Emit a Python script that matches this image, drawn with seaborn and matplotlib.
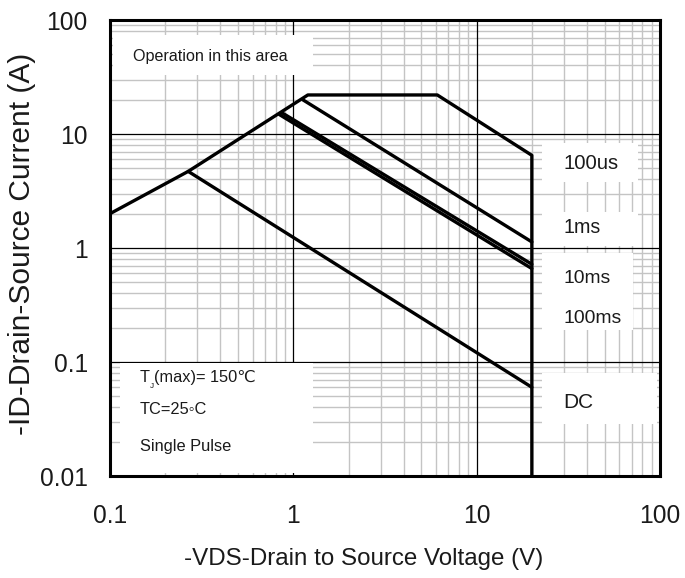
import matplotlib
matplotlib.use("Agg")
import matplotlib.pyplot as plt
from matplotlib.patches import Rectangle
import numpy as np
import pandas as pd
import seaborn as sns

# ---- data (V, A) ----
boundary_v = [0.1, 0.267, 1.2, 6.1, 20.0, 20.0]
boundary_i = [2.0, 4.7, 22.0, 22.0, 6.5, 0.01]
ms1_v = [1.13, 20.0]
ms1_i = [19.9, 1.13]
ms10_v = [0.87, 20.0]
ms10_i = [15.3, 0.72]
ms100_v = [0.84, 20.0]
ms100_i = [14.8, 0.66]
dc_v = [0.267, 20.0]
dc_i = [4.7, 0.06]

series_labels = ["100us", "1ms", "10ms", "100ms", "DC"]
x_ticks = [0.1, 1, 10, 100]
x_ticklabels = ["0.1", "1", "10", "100"]
y_ticks = [0.01, 0.1, 1, 10, 100]
y_ticklabels = ["0.01", "0.1", "1", "10", "100"]

rows = []
for name, vs, is_ in [("boundary", boundary_v, boundary_i), ("1ms", ms1_v, ms1_i),
                      ("10ms", ms10_v, ms10_i), ("100ms", ms100_v, ms100_i),
                      ("DC", dc_v, dc_i)]:
    for k, (v, i) in enumerate(zip(vs, is_)):
        rows.append({"series": name, "order": k, "V": v, "I": i})
df = pd.DataFrame(rows)

sns.set_theme(style="white")
plt.rcParams["font.family"] = ["Liberation Sans", "DejaVu Sans"]

fig = plt.figure(figsize=(6.85, 5.78), dpi=100)
ax = fig.add_axes([110 / 685, 1 - 476 / 578, 550 / 685, 456 / 578])

ax.set_xscale("log")
ax.set_yscale("log")
ax.set_xlim(0.1, 100)
ax.set_ylim(0.01, 100)

# grid: minor grey from the axis, major black on top of it
ax.grid(True, which="minor", color="#c4c4c4", lw=1.0)
ax.grid(False, which="major")
ax.set_axisbelow(True)
for xv in x_ticks[1:-1]:
    ax.axvline(xv, color="black", lw=0.9, zorder=1)
for yv in y_ticks[1:-1]:
    ax.axhline(yv, color="black", lw=0.9, zorder=1)

for name, grp in df.groupby("series", sort=False):
    sns.lineplot(data=grp.sort_values("order"), x="V", y="I", sort=False,
                 estimator=None, color="black", lw=2.4, ax=ax, zorder=4,
                 legend=False)

ax.set_xticks(x_ticks)
ax.set_xticklabels(x_ticklabels)
ax.set_yticks(y_ticks)
ax.set_yticklabels(y_ticklabels)
ax.xaxis.set_minor_locator(matplotlib.ticker.LogLocator(base=10, subs=np.arange(2, 10)))
ax.yaxis.set_minor_locator(matplotlib.ticker.LogLocator(base=10, subs=np.arange(2, 10)))
ax.xaxis.set_minor_formatter(matplotlib.ticker.NullFormatter())
ax.yaxis.set_minor_formatter(matplotlib.ticker.NullFormatter())
ax.tick_params(which="both", length=0, colors="#1a1a1a")
ax.tick_params(axis="x", pad=20)
ax.tick_params(axis="y", pad=16)

for s in ax.spines.values():
    s.set_linewidth(2.2)
    s.set_color("black")
    s.set_zorder(6)

xl = ax.set_xlabel("-VDS-Drain to Source Voltage (V)", color="#1a1a1a")
yl = ax.set_ylabel("-ID-Drain-Source Current (A)", color="#1a1a1a")

# white areas behind annotations
def white_box(x0, y0, x1, y1):
    ax.add_patch(Rectangle((x0, y0), x1 - x0, y1 - y0, transform=ax.transAxes,
                           facecolor="white", edgecolor="none", zorder=2))

white_box(0.005, 0.879, 0.369, 0.967)
white_box(0.018, 0.007, 0.369, 0.248)
white_box(0.785, 0.645, 0.96, 0.73)
white_box(0.785, 0.505, 0.96, 0.58)
white_box(0.785, 0.32, 0.95, 0.49)
white_box(0.785, 0.115, 0.995, 0.225)

t_op = ax.text(0.183, 0.921, "Operation in this area", transform=ax.transAxes,
               ha="center", va="center", color="#1a1a1a", zorder=3)

label_y = [0.686, 0.544, 0.434, 0.346, 0.162]
label_w = [55, 37, 47, 58, 30]
lab_texts = []
for lab, yy in zip(series_labels, label_y):
    lab_texts.append(ax.text(0.824, yy, lab, transform=ax.transAxes, ha="left",
                             va="center", color="#1a1a1a", zorder=3))

t_tc = ax.text(0.0545, 0.145, "TC=25\u25e6C", transform=ax.transAxes, ha="left",
               va="center", color="#1a1a1a", zorder=3)
t_sp = ax.text(0.0545, 0.064, "Single Pulse", transform=ax.transAxes, ha="left",
               va="center", color="#1a1a1a", zorder=3)

# ---- fit font sizes to the widths measured on the reference ----
fig.canvas.draw()
renderer = fig.canvas.get_renderer()

def fit_size(txt, target_px, horizontal=True, base=10.0):
    txt.set_fontsize(base)
    bb = txt.get_window_extent(renderer)
    w = bb.width if horizontal else bb.height
    size = base * target_px / w
    txt.set_fontsize(size)
    return size

fit_size(t_op, 155)
for t, w in zip(lab_texts, label_w):
    fit_size(t, w)
s_small = fit_size(t_sp, 91)
t_tc.set_fontsize(s_small)
fit_size(xl, 360)
fit_size(yl, 383, horizontal=False)

probe = ax.text(0, 0, "100", transform=ax.transAxes)
s_tick = fit_size(probe, 41)
probe.remove()
ax.tick_params(labelsize=s_tick)

ax.xaxis.set_label_coords(0.462, -0.158)
ax.yaxis.set_label_coords(-0.134, 0.51)

# Tj(max) with subscript J
fig.canvas.draw()
inv = ax.transAxes.inverted()
t1 = ax.text(0.0545, 0.215, "T", transform=ax.transAxes, ha="left", va="center",
             fontsize=s_small, color="#1a1a1a", zorder=3)
bb = t1.get_window_extent(renderer)
x_after_T = inv.transform((bb.x1, bb.y0))[0]
t2 = ax.text(x_after_T, 0.197, "J", transform=ax.transAxes, ha="left", va="center",
             fontsize=s_small * 0.5, color="#1a1a1a", zorder=3)
bb2 = t2.get_window_extent(renderer)
x_after_J = inv.transform((bb2.x1, bb2.y0))[0]
ax.text(x_after_J, 0.215, "(max)= 150\u2103", transform=ax.transAxes, ha="left",
        va="center", fontsize=s_small, color="#1a1a1a", zorder=3)

fig.savefig("out.png", dpi=100)
